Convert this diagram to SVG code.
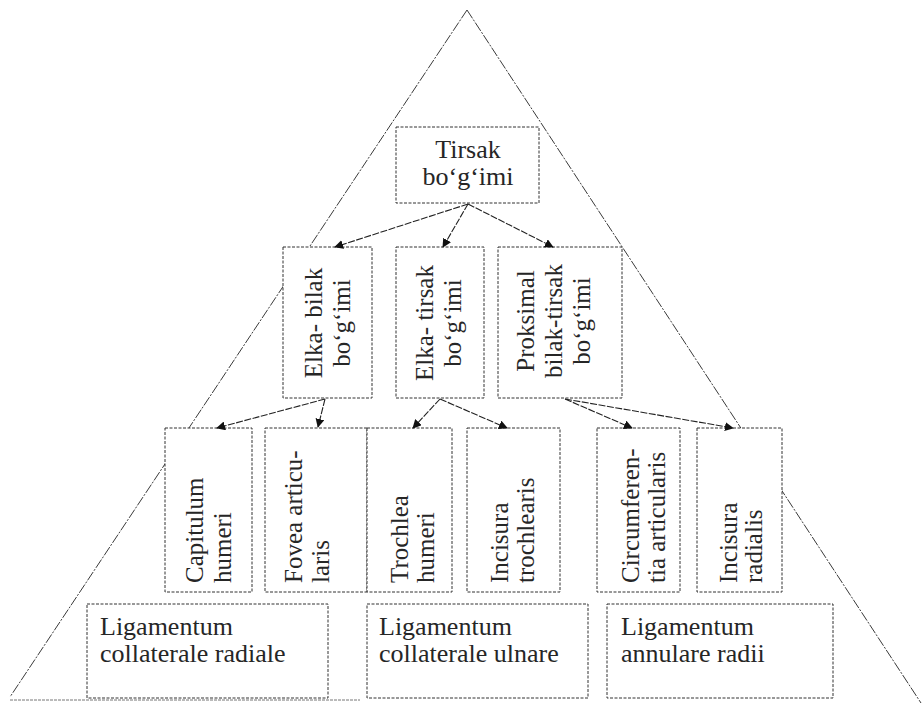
<svg xmlns="http://www.w3.org/2000/svg" width="924" height="708" viewBox="0 0 924 708">
<style>
.tri{fill:none;stroke:#3a3a3a;stroke-width:1;stroke-dasharray:10 1.5 2 1.5}
.box{fill:#fff;stroke:#333;stroke-width:1;stroke-dasharray:3 1.5}
.t{font-family:"Liberation Serif","Times New Roman",serif;font-size:25px;fill:#262626}
.h{font-size:26px}
.m{text-anchor:middle}
.c{fill:none;stroke:#222;stroke-width:1.1;stroke-dasharray:7 1.5}
</style>
<defs>
<marker id="ah" viewBox="0 0 10 10" refX="9" refY="5" markerWidth="9" markerHeight="9" markerUnits="userSpaceOnUse" orient="auto">
<path d="M0,0 L10,5 L0,10 Z" fill="#111"/>
</marker>
</defs>
<rect width="924" height="708" fill="#fff"/>
<g id="triangle">
<line class="tri" x1="467" y1="10" x2="10" y2="697"/>
<line class="tri" x1="467" y1="10" x2="921" y2="703"/>
<line class="tri" x1="10" y1="700" x2="360" y2="700" style="stroke:#777;stroke-dasharray:3 1"/>
</g>
<g id="tirsak">
<rect class="box" x="396" y="127" width="143" height="76"/>
<text class="t h m" x="468" y="158">Tirsak</text>
<text class="t h m" x="468" y="185">bo‘g‘imi</text>
</g>
<g id="elka-bilak">
<rect class="box" x="283" y="247" width="89" height="151"/>
<text class="t m" transform="translate(322,323) rotate(-90)">Elka- bilak</text>
<text class="t m" transform="translate(350,323) rotate(-90)">bo‘g‘imi</text>
</g>
<g id="elka-tirsak">
<rect class="box" x="396" y="247" width="88" height="151"/>
<text class="t m" transform="translate(433,323) rotate(-90)">Elka- tirsak</text>
<text class="t m" transform="translate(461,323) rotate(-90)">bo‘g‘imi</text>
</g>
<g id="proksimal">
<rect class="box" x="498" y="247" width="124" height="151"/>
<text class="t m" transform="translate(534,321) rotate(-90)">Proksimal</text>
<text class="t m" transform="translate(562,321) rotate(-90)">bilak-tirsak</text>
<text class="t m" transform="translate(590,321) rotate(-90)">bo‘g‘imi</text>
</g>
<g id="capitulum">
<rect class="box" x="165" y="428" width="87" height="164"/>
<text class="t" transform="translate(203,583) rotate(-90)">Capitulum</text>
<text class="t" transform="translate(231,583) rotate(-90)">humeri</text>
</g>
<g id="fovea">
<rect class="box" x="265" y="428" width="102" height="164"/>
<text class="t" transform="translate(302,583) rotate(-90)">Fovea articu-</text>
<text class="t" transform="translate(329,583) rotate(-90)">laris</text>
</g>
<g id="trochlea">
<rect class="box" x="367" y="428" width="85" height="164"/>
<text class="t" transform="translate(408,583) rotate(-90)">Trochlea</text>
<text class="t" transform="translate(434,583) rotate(-90)">humeri</text>
</g>
<g id="incisura-trochlearis">
<rect class="box" x="467" y="428" width="93" height="164"/>
<text class="t" transform="translate(508,583) rotate(-90)">Incisura</text>
<text class="t" transform="translate(534,583) rotate(-90)">trochlearis</text>
</g>
<g id="circumferentia">
<rect class="box" x="597" y="428" width="83" height="164"/>
<text class="t" transform="translate(639,583) rotate(-90)">Circumferen-</text>
<text class="t" transform="translate(665,583) rotate(-90)">tia articularis</text>
</g>
<g id="incisura-radialis">
<rect class="box" x="697" y="428" width="85" height="164"/>
<text class="t" transform="translate(737,583) rotate(-90)">Incisura</text>
<text class="t" transform="translate(762,583) rotate(-90)">radialis</text>
</g>
<g id="lig-radiale">
<rect class="box" x="87" y="604" width="241" height="94"/>
<text class="t h" x="100" y="635">Ligamentum</text>
<text class="t h" x="100" y="662">collaterale  radiale</text>
</g>
<g id="lig-ulnare">
<rect class="box" x="367" y="604" width="221" height="94"/>
<text class="t h" x="379" y="635">Ligamentum</text>
<text class="t h" x="379" y="662">collaterale  ulnare</text>
</g>
<g id="lig-annulare">
<rect class="box" x="607" y="604" width="226" height="94"/>
<text class="t h" x="621" y="635">Ligamentum</text>
<text class="t h" x="621" y="662">annulare radii</text>
</g>
<g id="connectors">
<line class="c" x1="468" y1="204" x2="335" y2="247" marker-end="url(#ah)"/>
<line class="c" x1="468" y1="204" x2="443" y2="247" marker-end="url(#ah)"/>
<line class="c" x1="468" y1="204" x2="553" y2="247" marker-end="url(#ah)"/>
<line class="c" x1="325" y1="399" x2="217" y2="428" marker-end="url(#ah)"/>
<line class="c" x1="325" y1="399" x2="318" y2="427" marker-end="url(#ah)"/>
<line class="c" x1="440" y1="399" x2="413" y2="428" marker-end="url(#ah)"/>
<line class="c" x1="440" y1="399" x2="507" y2="428" marker-end="url(#ah)"/>
<line class="c" x1="565" y1="399" x2="632" y2="428" marker-end="url(#ah)"/>
<line class="c" x1="565" y1="399" x2="733" y2="428" marker-end="url(#ah)"/>
</g>
</svg>
